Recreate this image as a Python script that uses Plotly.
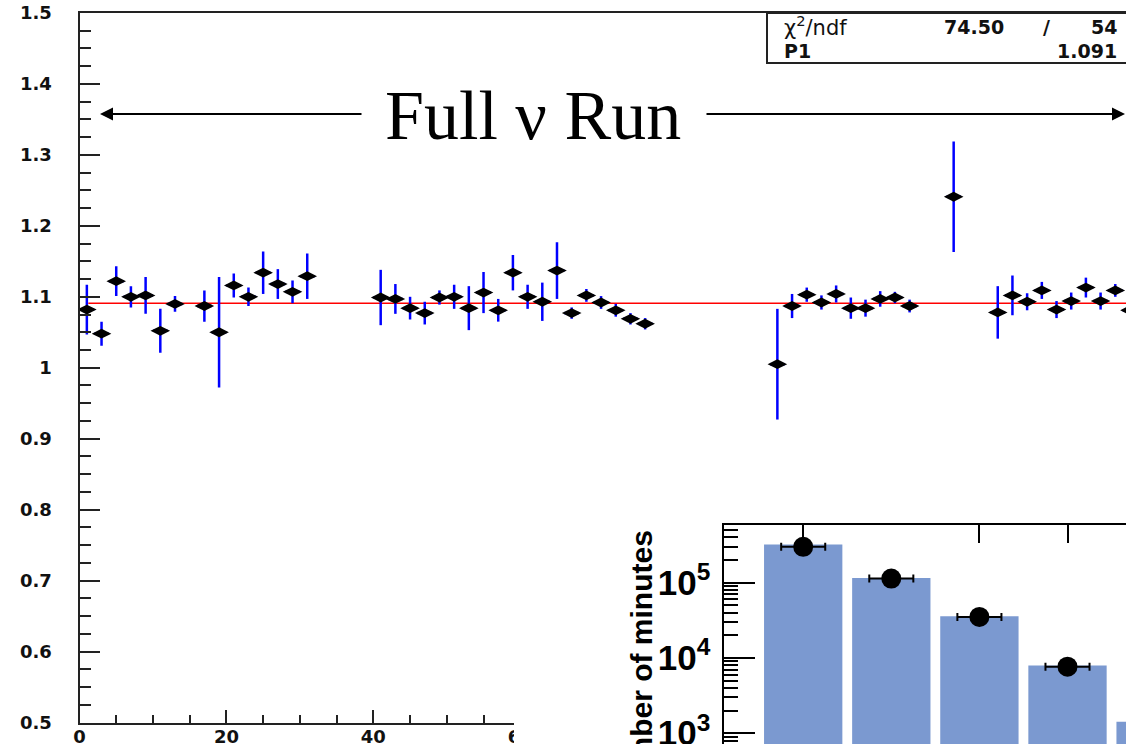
import plotly.graph_objects as go

# ---------------- data ----------------
run_bin = [1, 3, 5, 7, 9, 11, 13, 17, 19, 21, 23, 25, 27, 29, 31,
           41, 43, 45, 47, 49, 51, 53, 55, 57, 59, 61, 63, 65, 67, 69, 71, 73, 75, 77,
           95, 97, 99, 101, 103, 105, 107, 109, 111, 113,
           119,
           125, 127, 129, 131, 133, 135, 137, 139, 141, 143]
ratio = [1.082, 1.048, 1.122, 1.100, 1.102, 1.052, 1.090, 1.087, 1.050, 1.116, 1.100, 1.134, 1.118, 1.107, 1.129,
         1.099, 1.097, 1.084, 1.077, 1.099, 1.100, 1.084, 1.106, 1.081, 1.134, 1.100, 1.093, 1.137, 1.077, 1.102, 1.092, 1.081, 1.069, 1.062,
         1.005, 1.087, 1.103, 1.092, 1.104, 1.084, 1.084, 1.097, 1.099, 1.087,
         1.241,
         1.078, 1.102, 1.093, 1.109, 1.082, 1.094, 1.113, 1.094, 1.109, 1.081]
ratio_err = [0.035, 0.017, 0.021, 0.015, 0.026, 0.031, 0.011, 0.022, 0.078, 0.017, 0.013, 0.030, 0.021, 0.016, 0.032,
             0.039, 0.021, 0.016, 0.016, 0.010, 0.017, 0.031, 0.029, 0.016, 0.025, 0.017, 0.027, 0.040, 0.008, 0.009, 0.009, 0.009, 0.008, 0.008,
             0.078, 0.017, 0.010, 0.010, 0.012, 0.015, 0.012, 0.011, 0.008, 0.009,
             0.078,
             0.037, 0.028, 0.012, 0.012, 0.012, 0.012, 0.014, 0.012, 0.009, 0.010]
bin_half_width = 1

chi2 = 74.50
ndf = 54
p1 = 1.091
fit_range = [1.2, 150]

x_ticks = [0, 20, 40, 60]
x_tick_text = ["0", "20", "40", "60"]

# inset: number of minutes per category
inset_cat = [0, 1, 2, 3, 4]
inset_bar_minutes = [3.2e5, 1.15e5, 3.56e4, 7.9e3, 1.42e3]
inset_pt_cat = [0, 1, 2, 3]
inset_pt_minutes = [2.98e5, 1.13e5, 3.5e4, 7.65e3]

# ---------------- layout geometry ----------------
W, H = 1126, 744
L, R, T, B = 79.5, 1126, 13, 722.5
PXU = 7.346                       # pixels per run bin unit
x_max = (R - L) / PXU
AX_END = 600                       # bottom axis drawn up to here (then hidden by inset)
INS_L, INS_T = 724, 525
INS_C0, INS_STEP = 803.2, 88.1

def px_x(p):
    return p / W

def px_y(p):
    return (H - p) / H

fig = go.Figure()

# fit line
fig.add_trace(go.Scatter(x=fit_range, y=[p1, p1], mode="lines",
                         line=dict(color="#ff0000", width=1.5),
                         xaxis="x", yaxis="y", hoverinfo="skip", showlegend=False))
# data
fig.add_trace(go.Scatter(
    x=run_bin, y=ratio, mode="markers",
    marker=dict(symbol="diamond-wide", size=14, color="black"),
    error_y=dict(type="data", array=ratio_err, color="#0000ff", thickness=2.5, width=0),
    error_x=dict(type="constant", value=bin_half_width, color="#0000ff", thickness=2.5, width=0),
    xaxis="x", yaxis="y", showlegend=False))
# dummy trace to instantiate the bottom axis
fig.add_trace(go.Scatter(x=[], y=[], xaxis="x3", yaxis="y", showlegend=False, hoverinfo="skip"))

# inset bars and points
fig.add_trace(go.Bar(x=inset_cat, y=inset_bar_minutes, width=0.889,
                     marker=dict(color="#7b99d0", line=dict(width=0)),
                     xaxis="x2", yaxis="y2", showlegend=False))
fig.add_trace(go.Scatter(x=inset_pt_cat, y=inset_pt_minutes, mode="markers",
                         marker=dict(symbol="circle", size=20, color="black"),
                         error_x=dict(type="constant", value=0.25, color="black", thickness=2, width=4),
                         xaxis="x2", yaxis="y2", showlegend=False))

tickfont = dict(family="DejaVu Sans", size=18, color="#111", weight="bold")
LC = "#222"

fig.update_layout(
    width=W, height=H,
    margin=dict(l=0, r=0, t=0, b=0),
    paper_bgcolor="white", plot_bgcolor="rgba(0,0,0,0)",
    showlegend=False,
    xaxis=dict(domain=[px_x(L), 1], range=[0, x_max], side="top", anchor="y",
               showline=True, linecolor=LC, linewidth=2, ticks="", showticklabels=False,
               showgrid=False, zeroline=False),
    yaxis=dict(domain=[px_y(B), px_y(T)], range=[0.5, 1.5], anchor="x",
               showline=True, linecolor=LC, linewidth=2, showgrid=False, zeroline=False,
               ticks="inside", ticklen=20, tickwidth=2, tickcolor=LC, tick0=0.5, dtick=0.1,
               minor=dict(ticks="inside", ticklen=11, tickwidth=2, tickcolor=LC, dtick=0.025, showgrid=False),
               tickfont=tickfont, ticklabelstandoff=22, automargin=False, ticklabeloverflow="allow"),
    xaxis3=dict(domain=[px_x(L), px_x(AX_END)], range=[0, (AX_END - L) / PXU], anchor="y", side="bottom",
                showline=True, linecolor=LC, linewidth=2, showgrid=False, zeroline=False,
                ticks="inside", ticklen=13, tickwidth=2, tickcolor=LC,
                tickvals=x_ticks, ticktext=x_tick_text,
                minor=dict(ticks="inside", ticklen=8, tickwidth=2, tickcolor=LC, dtick=5, tick0=0, showgrid=False),
                tickfont=tickfont, ticklabelstandoff=-3, automargin=False, ticklabeloverflow="allow"),
    xaxis2=dict(domain=[px_x(INS_L), 1],
                range=[(INS_L - INS_C0) / INS_STEP, (W - INS_C0) / INS_STEP],
                anchor="y2", side="top", showline=True, linecolor="black", linewidth=2,
                ticks="inside", ticklen=18, tickwidth=2, tickcolor="black", tickvals=[0, 2, 3],
                showticklabels=False, showgrid=False, zeroline=False),
    yaxis2=dict(domain=[0, px_y(INS_T)], type="log", range=[2.857, 5.764], anchor="x2",
                showline=True, linecolor="black", linewidth=2, showgrid=False, zeroline=False,
                ticks="inside", ticklen=31, tickwidth=2, tickcolor="black", dtick=1,
                exponentformat="power",
                minor=dict(ticks="inside", ticklen=14, tickwidth=2, tickcolor="black", dtick="D1", showgrid=False),
                tickfont=dict(family="Liberation Sans", size=28, color="black", weight="bold"),
                ticklabelstandoff=6, automargin=False, ticklabeloverflow="allow"),
)

# white patch: the inset picture hides the end of the main x axis
fig.add_shape(type="rect", xref="paper", yref="paper",
              x0=px_x(514), x1=px_x(615), y0=0, y1=px_y(700),
              fillcolor="white", line=dict(width=0), layer="above")

# statistics box
fig.add_shape(type="rect", xref="paper", yref="paper",
              x0=px_x(767), x1=px_x(1140), y0=px_y(63), y1=px_y(T),
              fillcolor="rgba(0,0,0,0)", line=dict(color=LC, width=2), layer="above")
sfont_r = dict(family="DejaVu Sans", size=21, color="#111")
sfont_b = dict(family="DejaVu Sans", size=19, color="#111", weight="bold")
fig.add_annotation(xref="paper", yref="paper", x=px_x(782), y=px_y(26), xanchor="left", yanchor="middle",
                   text="χ<sup>2</sup>/ndf", showarrow=False, font=sfont_r)
fig.add_annotation(xref="paper", yref="paper", x=px_x(1006), y=px_y(27), xanchor="right", yanchor="middle",
                   text=f"{chi2:.2f}", showarrow=False, font=sfont_b)
fig.add_annotation(xref="paper", yref="paper", x=px_x(1046), y=px_y(27), xanchor="center", yanchor="middle",
                   text="/", showarrow=False, font=sfont_b)
fig.add_annotation(xref="paper", yref="paper", x=px_x(1119), y=px_y(27), xanchor="right", yanchor="middle",
                   text=f"{ndf}", showarrow=False, font=sfont_b)
fig.add_annotation(xref="paper", yref="paper", x=px_x(782), y=px_y(51), xanchor="left", yanchor="middle",
                   text="P1", showarrow=False, font=sfont_b)
fig.add_annotation(xref="paper", yref="paper", x=px_x(1119), y=px_y(51), xanchor="right", yanchor="middle",
                   text=f"{p1:.3f}", showarrow=False, font=sfont_b)

# "Full ν Run" with arrows
fig.add_annotation(xref="paper", yref="paper", x=px_x(533), y=px_y(116), xanchor="center", yanchor="middle",
                   text="Full ν Run", showarrow=False,
                   font=dict(family="Liberation Serif", size=70, color="black"))
fig.add_annotation(xref="paper", yref="paper", x=px_x(100), y=px_y(114), text="", showarrow=True,
                   ax=263, ay=0, arrowhead=2, arrowsize=1.3, arrowwidth=2, arrowcolor="black")
fig.add_annotation(xref="paper", yref="paper", x=px_x(1136), y=px_y(114), text="", showarrow=True,
                   ax=-431, ay=0, arrowhead=2, arrowsize=1.3, arrowwidth=2, arrowcolor="black")

# inset y title
fig.add_annotation(xref="paper", yref="paper", x=px_x(641), y=px_y(528), xanchor="center", yanchor="top",
                   text="Number of minutes", textangle=-90, showarrow=False,
                   font=dict(family="Liberation Sans", size=30, color="black", weight="bold"))

fig.write_html("out.html")
